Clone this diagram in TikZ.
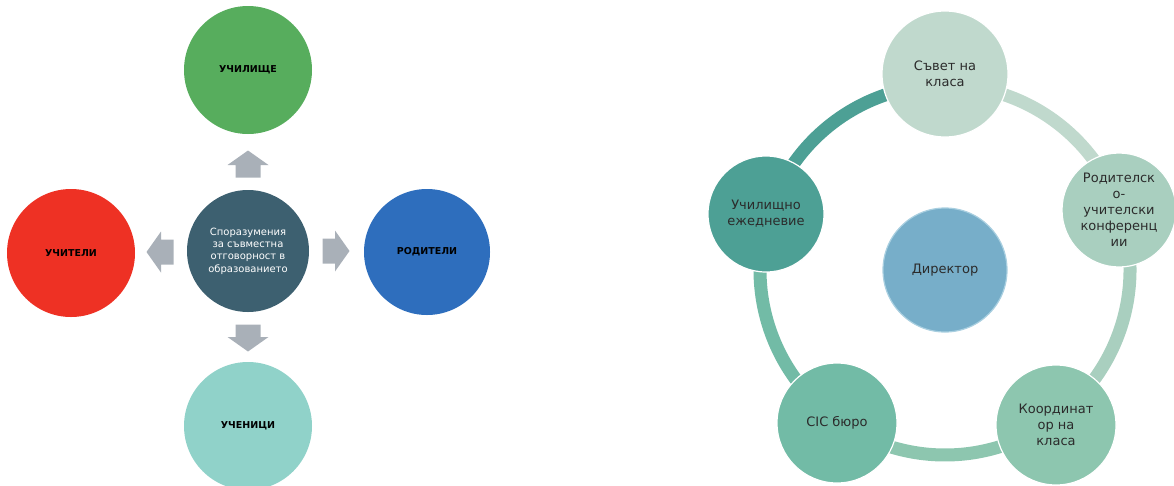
\documentclass[tikz,border=0pt]{standalone}
\usepackage{fontspec}
\setmainfont{DejaVu Sans}
\definecolor{cgreen}{HTML}{57AD5D}
\definecolor{cred}{HTML}{EE3124}
\definecolor{cblue}{HTML}{2E6EBD}
\definecolor{cmint}{HTML}{90D2C9}
\definecolor{cslate}{HTML}{3D6070}
\definecolor{carrow}{HTML}{A9B0B8}
\definecolor{rA}{HTML}{C0D9CD}
\definecolor{rB}{HTML}{A9CFBF}
\definecolor{rC}{HTML}{8DC6AF}
\definecolor{rD}{HTML}{72BBA6}
\definecolor{rE}{HTML}{4DA095}
\definecolor{cdir}{HTML}{77AEC9}
\definecolor{cdirb}{HTML}{A9CFE0}
\definecolor{ctext}{HTML}{2B2B2B}
\begin{document}
\begin{tikzpicture}[x=1pt,y=-1pt,
  lcirc/.style={circle,minimum size=128pt,inner sep=0pt,align=center,
    font=\fontsize{9.5}{11}\selectfont\bfseries,text=black},
  blockarr/.pic={\fill[carrow] (0,-13.5) -- (20.5,1) -- (12.5,1) -- (12.5,13.5)
     -- (-12.5,13.5) -- (-12.5,1) -- (-20.5,1) -- cycle;},
  rcirc/.style={circle,inner sep=0pt,align=center,draw=white,line width=1.2pt,
    font=\fontsize{13}{16}\selectfont,text=ctext},
  ring/.style={line width=13pt}
]
\useasboundingbox (0,0) rectangle (1174,485);
% ---------- left diagram ----------
\node[circle,minimum size=122pt,inner sep=0pt,fill=cslate,align=center,
  text=white,font=\fontsize{10}{12.3}\selectfont] (ctr) at (248,251)
  {Споразумения\\за съвместна\\отговорност в\\образованието};
\node[lcirc,fill=cgreen] (school) at (248,70) {УЧИЛИЩЕ};
\node[lcirc,fill=cred] (teach) at (71,253) {УЧИТЕЛИ};
\node[lcirc,fill=cblue,minimum size=126pt] (par) at (427,252) {РОДИТЕЛИ};
\node[lcirc,fill=cmint] (stud) at (248,426) {УЧЕНИЦИ};
\path (248,164) pic {blockarr};
\path (160,252) pic[rotate=90] {blockarr};
\path (336,251) pic[rotate=-90] {blockarr};
\path (248,338) pic[rotate=180] {blockarr};
% ---------- right diagram ----------
\node[rcirc,fill=cdir,draw=cdirb,minimum size=124pt] (dir) at (945,270) {Директор};
\draw[ring,rE] ([shift={(198:185)}]dir.center) arc[start angle=198,end angle=270,radius=185];
\draw[ring,rA] ([shift={(-90:185)}]dir.center) arc[start angle=-90,end angle=-19.5,radius=185];
\draw[ring,rB] ([shift={(-19.5:185)}]dir.center) arc[start angle=-19.5,end angle=55.5,radius=185];
\draw[ring,rC] ([shift={(55.5:185)}]dir.center) arc[start angle=55.5,end angle=126,radius=185];
\draw[ring,rD] ([shift={(126:185)}]dir.center) arc[start angle=126,end angle=198,radius=185];
\node[rcirc,fill=rA,minimum size=126pt] (sovet) at (945,74) {Съвет на\\класа};
\node[rcirc,fill=rB,minimum size=114pt] (konf) at (1119,210) {Родителск\\о-\\учителски\\конференц\\ии};
\node[rcirc,fill=rC,minimum size=120pt] (koord) at (1056,425) {Координат\\ор на\\класа};
\node[rcirc,fill=rD,minimum size=120pt] (cic) at (837,423) {CIC бюро};
\node[rcirc,fill=rE,minimum size=116pt] (ezh) at (766,214) {Училищно\\ежедневие};
\end{tikzpicture}
\end{document}
